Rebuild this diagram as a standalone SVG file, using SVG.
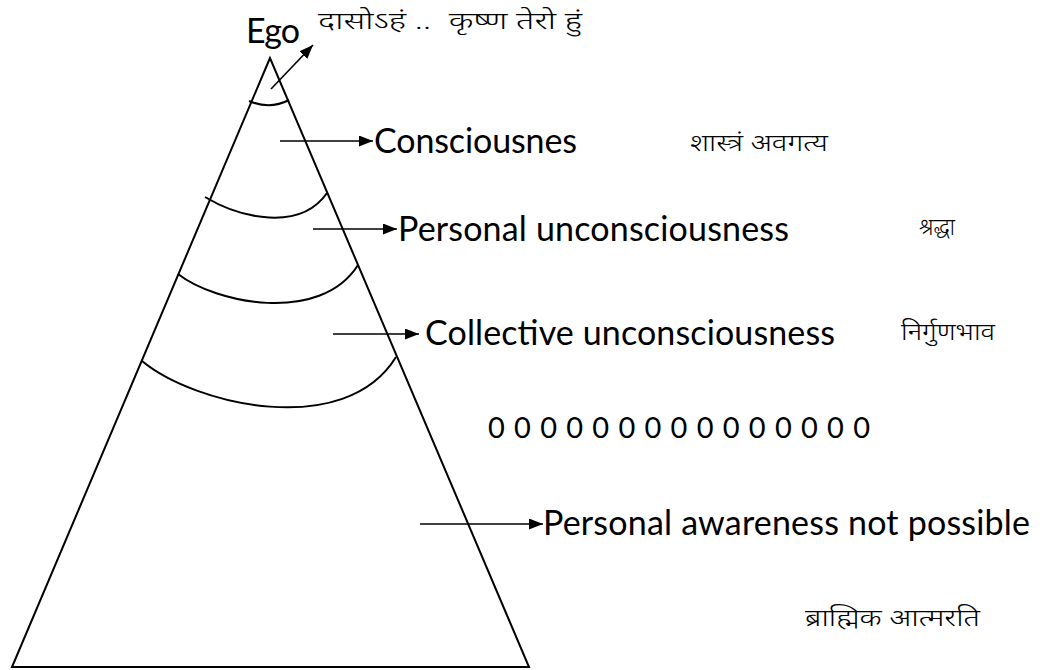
<svg xmlns="http://www.w3.org/2000/svg" width="1054" height="670" viewBox="0 0 1054 670">
<style>
.lbl{font-family:Lato,"Liberation Sans",sans-serif;font-size:34px;fill:#000}
.dots{font-family:Lato,"Liberation Sans",sans-serif;font-size:29px;fill:#000}
.dev{font-family:"Noto Sans Devanagari","Noto Sans","Lohit Devanagari",sans-serif;font-size:24px;font-weight:300;fill:#000;white-space:pre}
.ln{stroke:#000;stroke-width:2;fill:none}
.ar{stroke:#000;stroke-width:1.6;fill:none}
</style>
<defs>
<marker id="ah" markerUnits="userSpaceOnUse" markerWidth="15" markerHeight="12" refX="14" refY="5.5" orient="auto">
<path d="M0,0 L14,5.5 L0,11 z" fill="#000"/>
</marker>
</defs>
<rect width="1054" height="670" fill="#fff"/>
<g id="pyramid">
<path class="ln" d="M270 58 L12 667 L529 667 Z"/>
<path class="ln" d="M249 101 Q270 110 289 100"/>
<path class="ln" d="M205 197 C240 218 300 232 327 193"/>
<path class="ln" d="M178 274 C215 303 320 325 358 265"/>
<path class="ln" d="M142 361 C195 405 345 440 396 357"/>
</g>
<g id="connectors">
<line class="ar" x1="271" y1="89" x2="313" y2="45" marker-end="url(#ah)"/>
<line class="ar" x1="280" y1="141" x2="373" y2="141" marker-end="url(#ah)"/>
<line class="ar" x1="313" y1="229" x2="397" y2="229" marker-end="url(#ah)"/>
<line class="ar" x1="333" y1="334" x2="419" y2="334" marker-end="url(#ah)"/>
<line class="ar" x1="420" y1="524" x2="543" y2="524" marker-end="url(#ah)"/>
</g>
<g id="ego"><text class="lbl" x="246" y="43" textLength="54" lengthAdjust="spacing">Ego</text></g>
<g id="ego-note"><text class="dev" x="318" y="29" textLength="264" lengthAdjust="spacingAndGlyphs">दासोऽहं ..  कृष्ण तेरो हुं</text></g>
<g id="consciousness"><text class="lbl" x="374" y="153" textLength="203" lengthAdjust="spacing">Consciousnes</text></g>
<g id="consciousness-note"><text class="dev" x="690" y="151" textLength="138" lengthAdjust="spacingAndGlyphs">शास्त्रं अवगत्य</text></g>
<g id="personal"><text class="lbl" x="398" y="241" textLength="391" lengthAdjust="spacing">Personal unconsciousness</text></g>
<g id="personal-note"><text class="dev" x="919" y="235" textLength="36" lengthAdjust="spacingAndGlyphs">श्रद्धा</text></g>
<g id="collective"><text class="lbl" x="425" y="345" textLength="410" lengthAdjust="spacing">Collective unconsciousness</text></g>
<g id="collective-note"><text class="dev" x="901" y="340" textLength="94" lengthAdjust="spacingAndGlyphs">निर्गुणभाव</text></g>
<g id="dots"><text class="dots" x="488" y="438" textLength="382" lengthAdjust="spacing">0 0 0 0 0 0 0 0 0 0 0 0 0 0 0</text></g>
<g id="awareness"><text class="lbl" x="543" y="535" textLength="487" lengthAdjust="spacing">Personal awareness not possible</text></g>
<g id="awareness-note"><text class="dev" x="805" y="626" textLength="175" lengthAdjust="spacingAndGlyphs">ब्राह्मिक आत्मरति</text></g>
</svg>
